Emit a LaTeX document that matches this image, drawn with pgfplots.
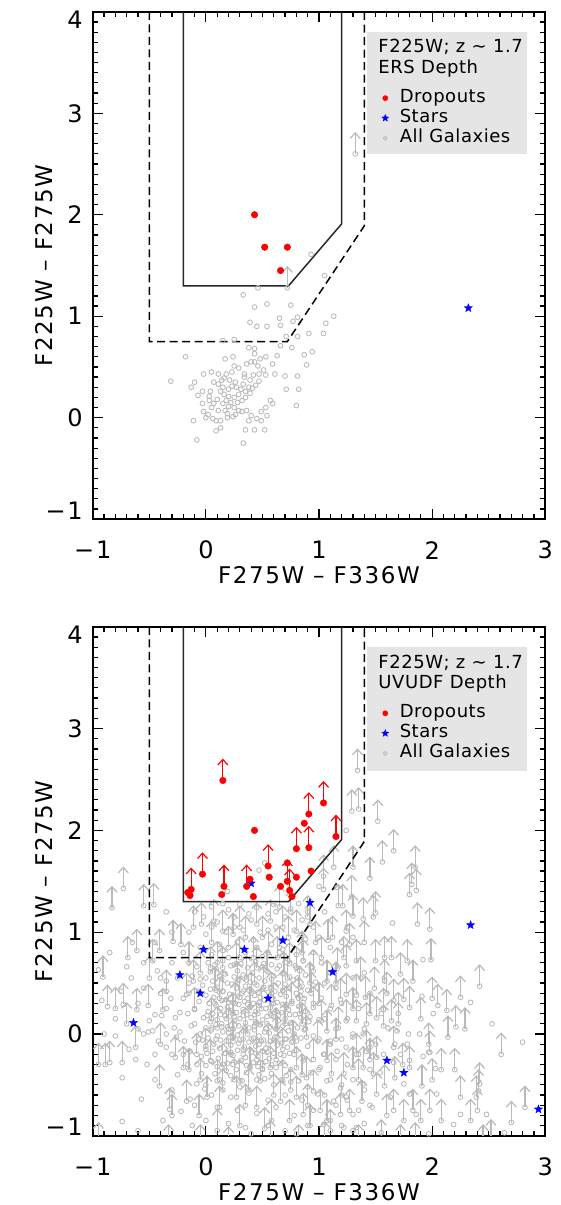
\documentclass[border=0pt]{standalone}
\usepackage{fontspec}
\usepackage{pgfplots}
\usepackage{pgfplotstable}
\pgfplotsset{compat=1.18}
\usetikzlibrary{arrows.meta}
\newfontfamily\idl{DejaVu Sans}[LetterSpace=7]
\newfontfamily\idls{DejaVu Sans}[LetterSpace=3]
\definecolor{galgray}{RGB}{185,185,185}
\definecolor{leggray}{RGB}{229,229,229}
\pgfdeclareplotmark{fstar}{%
  \pgfpathmoveto{\pgfpointpolar{90}{\pgfplotmarksize}}%
  \pgfpathlineto{\pgfpointpolar{126}{0.42\pgfplotmarksize}}%
  \pgfpathlineto{\pgfpointpolar{162}{\pgfplotmarksize}}%
  \pgfpathlineto{\pgfpointpolar{198}{0.42\pgfplotmarksize}}%
  \pgfpathlineto{\pgfpointpolar{234}{\pgfplotmarksize}}%
  \pgfpathlineto{\pgfpointpolar{270}{0.42\pgfplotmarksize}}%
  \pgfpathlineto{\pgfpointpolar{306}{\pgfplotmarksize}}%
  \pgfpathlineto{\pgfpointpolar{342}{0.42\pgfplotmarksize}}%
  \pgfpathlineto{\pgfpointpolar{18}{\pgfplotmarksize}}%
  \pgfpathlineto{\pgfpointpolar{54}{0.42\pgfplotmarksize}}%
  \pgfpathclose
  \pgfusepathqfillstroke}

% ---------------- top panel data ----------------
\pgfplotstableread[row sep=\\]{x y\\
0.93 1.61\\ 1.05 1.40\\ 1.13 1.00\\ 1.06 0.93\\ 1.04 0.83\\ 0.91 0.83\\ 0.94 0.65\\ 0.87 0.62\\ 0.89 0.52\\ 0.82 0.28\\
0.80 0.12\\ 0.81 0.41\\ 0.71 0.28\\ 0.70 0.41\\ 0.76 0.69\\ 0.81 0.80\\ 0.77 0.95\\ 0.81 0.99\\ 0.75 1.11\\ 0.66 0.91\\
0.65 0.98\\ 0.54 1.12\\ 0.43 1.09\\ 0.46 1.28\\ 0.33 1.21\\ 0.39 0.94\\ 0.45 0.90\\ 0.54 0.90\\ 0.71 0.80\\ 0.66 0.71\\
0.63 0.61\\ 0.53 0.60\\ 0.59 0.53\\ 0.61 0.43\\ 0.53 0.42\\ 0.51 0.47\\ 0.46 0.51\\ 0.48 0.58\\ 0.43 0.63\\ 0.38 0.69\\
0.43 0.68\\ 0.25 0.77\\ 0.15 0.76\\ -0.18 0.60\\ -0.31 0.36\\ -0.13 0.30\\ -0.10 0.35\\ -0.07 0.22\\ -0.03 0.14\\ 0.03 0.21\\
0.04 0.26\\ 0.05 0.45\\ 0.11 0.33\\ 0.14 0.37\\ 0.17 0.58\\ 0.24 0.60\\ 0.25 0.51\\ 0.29 0.49\\ 0.34 0.43\\ 0.36 0.53\\
0.40 0.55\\ 0.43 0.55\\ 0.34 0.40\\ 0.39 0.37\\ 0.42 0.42\\ 0.47 0.43\\ 0.47 0.36\\ 0.44 0.32\\ 0.41 0.29\\ 0.39 0.24\\
0.35 0.20\\ 0.32 0.17\\ 0.28 0.15\\ 0.25 0.10\\ 0.29 0.07\\ 0.26 0.03\\ 0.24 0.01\\ 0.32 0.06\\ 0.36 0.07\\ 0.40 0.02\\
0.45 -0.01\\ 0.43 -0.12\\ 0.35 -0.12\\ 0.52 -0.12\\ 0.33 -0.25\\ 0.09 -0.13\\ 0.13 -0.10\\ -0.08 -0.22\\ -0.11 -0.03\\ -0.02 0.06\\
0.02 0.03\\ 0.00 0.00\\ 0.06 -0.01\\ 0.09 -0.03\\ 0.11 0.07\\ 0.17 0.07\\ 0.19 0.04\\ 0.15 0.14\\ 0.18 0.17\\ 0.20 0.21\\
0.16 0.23\\ 0.13 0.26\\ 0.20 0.28\\ 0.23 0.31\\ 0.26 0.35\\ 0.27 0.30\\ 0.31 0.28\\ 0.33 0.33\\ 0.35 0.26\\ 0.38 0.30\\
0.29 0.23\\ 0.25 0.20\\ 0.22 0.15\\ 0.20 0.11\\ 0.05 0.10\\ 0.07 0.14\\ 0.10 0.18\\ 0.03 0.17\\ -0.03 0.26\\ 0.57 0.17\\
0.59 0.14\\ 0.53 0.10\\ 0.49 0.06\\ 0.54 0.02\\ 0.49 -0.03\\ 0.16 0.39\\ 0.21 0.37\\ 0.23 0.45\\ 0.18 0.43\\ 0.11 0.43\\
0.07 0.35\\ -0.02 0.43\\ 0.15 0.30\\ 0.38 -0.03\\ 0.19 0.00\\ 0.13 -0.03\\
}\topgal
\pgfplotstableread[row sep=\\]{x y\\ 0.72 1.28\\ 1.32 2.60\\}\toparrow
\pgfplotstableread[row sep=\\]{x y\\ 0.43 2.00\\ 0.52 1.68\\ 0.72 1.68\\ 0.66 1.45\\}\topdrop
\pgfplotstableread[row sep=\\]{x y\\ 2.32 1.08\\}\topstar

% ---------------- bottom panel data ----------------
\pgfplotstableread[row sep=\\]{x y\\
0.02 0.70\\ 0.15 0.72\\ 0.31 0.69\\ 0.44 0.71\\ 0.58 0.68\\ 0.71 0.70\\ 0.86 0.72\\
-0.08 0.66\\ 0.09 0.64\\ 0.22 0.67\\ 0.37 0.65\\ 0.50 0.66\\ 0.63 0.64\\ 0.79 0.67\\ 0.93 0.65\\
0.04 0.61\\ 0.17 0.59\\ 0.28 0.62\\ 0.41 0.60\\ 0.55 0.61\\ 0.68 0.59\\ 0.83 0.62\\
-0.12 0.57\\ 0.00 0.55\\ 0.12 0.57\\ 0.25 0.56\\ 0.33 0.58\\ 0.47 0.55\\ 0.60 0.57\\ 0.74 0.56\\ 0.88 0.58\\
0.06 0.52\\ 0.19 0.50\\ 0.29 0.53\\ 0.39 0.51\\ 0.52 0.52\\ 0.64 0.50\\ 0.77 0.53\\ 0.97 0.51\\
-0.03 0.48\\ 0.10 0.46\\ 0.23 0.49\\ 0.35 0.47\\ 0.45 0.48\\ 0.57 0.46\\ 0.70 0.49\\ 0.85 0.47\\
0.04 0.44\\ 0.15 0.42\\ 0.27 0.45\\ 0.38 0.43\\ 0.50 0.44\\ 0.61 0.42\\ 0.73 0.45\\ 0.90 0.43\\
-0.15 0.40\\ 0.00 0.38\\ 0.12 0.41\\ 0.21 0.39\\ 0.32 0.40\\ 0.43 0.38\\ 0.55 0.41\\ 0.66 0.39\\ 0.80 0.40\\
0.07 0.36\\ 0.18 0.34\\ 0.28 0.37\\ 0.37 0.35\\ 0.48 0.36\\ 0.59 0.34\\ 0.71 0.37\\ 0.87 0.35\\
-0.06 0.32\\ 0.03 0.30\\ 0.14 0.33\\ 0.24 0.31\\ 0.34 0.32\\ 0.42 0.30\\ 0.52 0.33\\ 0.63 0.31\\ 0.76 0.32\\ 0.95 0.30\\
0.09 0.28\\ 0.19 0.26\\ 0.29 0.29\\ 0.39 0.27\\ 0.47 0.28\\ 0.57 0.26\\ 0.68 0.29\\ 0.82 0.27\\
-0.10 0.24\\ 0.02 0.22\\ 0.13 0.25\\ 0.23 0.23\\ 0.33 0.24\\ 0.44 0.22\\ 0.53 0.25\\ 0.62 0.23\\ 0.73 0.24\\ 0.88 0.22\\
0.06 0.20\\ 0.17 0.18\\ 0.27 0.21\\ 0.36 0.19\\ 0.46 0.20\\ 0.58 0.18\\ 0.67 0.21\\ 0.79 0.19\\
-0.02 0.16\\ 0.10 0.14\\ 0.21 0.17\\ 0.30 0.15\\ 0.40 0.16\\ 0.50 0.14\\ 0.60 0.17\\ 0.70 0.15\\ 0.84 0.16\\ 1.00 0.14\\
0.04 0.12\\ 0.14 0.10\\ 0.25 0.13\\ 0.35 0.11\\ 0.44 0.12\\ 0.54 0.10\\ 0.64 0.13\\ 0.75 0.11\\ 0.91 0.12\\
-0.13 0.08\\ 0.00 0.06\\ 0.09 0.09\\ 0.19 0.07\\ 0.29 0.08\\ 0.38 0.06\\ 0.48 0.09\\ 0.57 0.07\\ 0.68 0.08\\ 0.81 0.06\\
0.05 0.04\\ 0.15 0.02\\ 0.24 0.05\\ 0.33 0.03\\ 0.43 0.04\\ 0.52 0.02\\ 0.62 0.05\\ 0.73 0.03\\ 0.87 0.04\\
-0.05 0.00\\ 0.10 -0.02\\ 0.20 0.01\\ 0.28 -0.01\\ 0.37 0.00\\ 0.47 -0.02\\ 0.56 0.01\\ 0.66 -0.01\\ 0.78 0.00\\ 0.95 -0.02\\
0.02 -0.04\\ 0.13 -0.06\\ 0.24 -0.03\\ 0.33 -0.05\\ 0.42 -0.04\\ 0.51 -0.06\\ 0.61 -0.03\\ 0.71 -0.05\\ 0.84 -0.04\\
-0.09 -0.08\\ 0.07 -0.10\\ 0.18 -0.07\\ 0.29 -0.09\\ 0.38 -0.08\\ 0.47 -0.10\\ 0.57 -0.07\\ 0.67 -0.09\\ 0.76 -0.08\\
0.00 -0.12\\ 0.12 -0.14\\ 0.22 -0.11\\ 0.34 -0.13\\ 0.44 -0.12\\ 0.53 -0.14\\ 0.63 -0.11\\ 0.72 -0.13\\ 0.90 -0.12\\
0.06 -0.17\\ 0.17 -0.19\\ 0.28 -0.16\\ 0.40 -0.18\\ 0.50 -0.17\\ 0.60 -0.19\\ 0.80 -0.16\\
-0.04 -0.22\\ 0.11 -0.24\\ 0.24 -0.21\\ 0.35 -0.23\\ 0.46 -0.22\\ 0.56 -0.24\\ 0.69 -0.21\\
0.05 -0.27\\ 0.19 -0.29\\ 0.31 -0.26\\ 0.42 -0.28\\ 0.53 -0.27\\ 0.65 -0.29\\ 0.86 -0.26\\
0.14 -0.33\\ 0.27 -0.35\\ 0.39 -0.32\\ 0.50 -0.34\\ 0.62 -0.33\\ 0.75 -0.35\\
0.08 -0.39\\ 0.22 -0.41\\ 0.36 -0.38\\ 0.47 -0.40\\ 0.58 -0.39\\ 0.71 -0.41\\ 0.93 -0.38\\
0.08 0.68\\ 0.25 0.68\\ 0.51 0.69\\ 0.65 0.67\\ -0.05 0.54\\ 0.14 0.54\\ 0.36 0.53\\ 0.58 0.54\\ 0.81 0.55\\
-0.08 0.42\\ 0.09 0.43\\ 0.33 0.42\\ 0.46 0.41\\ 0.68 0.43\\ 0.84 0.42\\ 0.08 0.30\\ 0.20 0.31\\ 0.37 0.29\\ 0.47 0.31\\
0.58 0.30\\ 0.71 0.29\\ 0.86 0.31\\ 0.01 0.18\\ 0.13 0.19\\ 0.25 0.17\\ 0.33 0.18\\ 0.43 0.19\\ 0.54 0.17\\ 0.64 0.18\\
0.74 0.19\\ 0.92 0.17\\ 0.05 0.06\\ 0.14 0.07\\ 0.24 0.05\\ 0.34 0.06\\ 0.43 0.07\\ 0.53 0.05\\ 0.63 0.06\\ 0.76 0.07\\
0.88 0.05\\ -0.03 -0.06\\ 0.09 -0.05\\ 0.20 -0.07\\ 0.30 -0.06\\ 0.40 -0.05\\ 0.49 -0.07\\ 0.60 -0.06\\ 0.70 -0.05\\ 0.80 -0.07\\
0.01 -0.19\\ 0.22 -0.18\\ 0.33 -0.20\\ 0.44 -0.19\\ 0.54 -0.18\\ 0.66 -0.20\\ 0.74 -0.19\\ 0.00 -0.31\\ 0.10 -0.32\\ 0.24 -0.30\\
0.36 -0.31\\ 0.46 -0.32\\ 0.58 -0.30\\ 0.70 -0.31\\ 0.12 -0.45\\ 0.32 -0.46\\ 0.52 -0.44\\ 0.67 -0.45\\ 0.82 -0.46\\
0.15 0.82\\ 0.45 0.85\\ 0.68 0.83\\ 0.85 0.98\\ 0.25 1.05\\ 0.55 1.02\\ 0.05 1.05\\ 0.38 1.18\\ 0.62 1.20\\ 0.82 1.28\\
-0.02 1.15\\ 0.15 1.28\\ -0.55 0.00\\ -0.62 -0.25\\ -0.80 0.15\\ -0.45 -0.20\\ -0.35 0.25\\ -0.55 0.70\\ -0.65 0.90\\ -0.85 0.80\\
-0.25 0.55\\ -0.40 0.55\\
-0.74 -0.43\\ -0.57 -0.64\\ -0.74 -0.86\\ -0.31 0.35\\ -0.39 0.18\\ -0.45 0.19\\ -0.50 0.13\\ -0.51 0.02\\ -0.47 0.03\\ -0.42 -0.07\\
-0.35 -0.13\\ -0.30 -0.20\\ -0.26 -0.03\\ -0.28 0.06\\ -0.23 0.02\\ -0.23 0.21\\ -0.27 0.16\\ -0.19 -0.07\\ -0.20 -0.20\\ -0.14 -0.17\\
-0.16 -0.30\\ -0.08 -0.30\\ -0.04 -0.39\\ -0.08 -0.49\\ -0.01 -0.54\\ -0.14 -0.64\\ -0.22 -0.76\\ -0.43 0.62\\ -0.35 0.52\\ -0.70 0.66\\
-0.95 0.63\\ -0.92 0.33\\ -0.66 0.55\\ -0.55 0.45\\ -0.60 0.05\\ -0.35 0.00\\ -0.20 0.35\\ -0.15 0.50\\ -0.30 0.70\\ -0.20 0.80\\
-0.45 0.90\\ -0.80 -0.02\\ -0.52 -0.30\\ -0.45 -0.45\\ -0.30 -0.55\\ -0.38 -0.85\\ -0.60 -0.95\\ -0.12 -0.90\\ -0.25 -0.40\\ -0.10 0.10\\
-0.16 0.20\\ -0.06 -0.05\\ -0.30 1.00\\ -0.35 1.20\\ -0.15 1.00\\ -0.40 0.40\\ -0.60 0.30\\ -0.75 0.42\\ -0.90 0.00\\ -0.68 -0.15\\
0.05 0.78\\ 0.20 0.75\\ 0.35 0.80\\ 0.50 0.76\\ 0.65 0.80\\ 0.80 0.78\\ 0.95 0.80\\ -0.05 0.85\\ 0.12 0.88\\ 0.28 0.90\\
0.42 0.92\\ 0.58 0.88\\ 0.72 0.90\\ 0.88 0.93\\ 0.00 0.98\\ 0.18 1.00\\ 0.33 1.02\\ 0.48 1.00\\ 0.62 1.05\\ 0.78 1.02\\
0.95 1.05\\ 0.10 1.10\\ 0.25 1.15\\ 0.40 1.12\\ 0.55 1.18\\ 0.70 1.15\\ 0.85 1.12\\ -0.10 1.20\\ 0.05 1.25\\ 0.20 1.22\\
0.30 1.27\\ 0.45 1.24\\ 0.60 1.27\\ 0.75 1.23\\ 0.90 1.20\\ 0.47 1.61\\ 0.52 1.68\\ 0.19 1.40\\ 1.00 1.45\\ 1.05 1.20\\
1.00 0.95\\ 1.10 0.85\\ 1.20 0.90\\ 1.30 0.95\\ 1.25 1.05\\ 1.24 2.00\\ 1.16 1.44\\
0.00 -0.50\\ 0.15 -0.48\\ 0.30 -0.52\\ 0.45 -0.45\\ 0.60 -0.50\\ 0.75 -0.47\\ 0.90 -0.52\\ 0.05 -0.60\\ 0.22 -0.62\\ 0.38 -0.58\\
0.55 -0.65\\ 0.70 -0.60\\ 0.85 -0.65\\ 0.10 -0.72\\ 0.28 -0.75\\ 0.45 -0.78\\ 0.62 -0.72\\ 0.78 -0.80\\ 0.95 -0.75\\ 0.00 -0.85\\
0.20 -0.88\\ 0.35 -0.92\\ 0.55 -0.90\\ 0.70 -0.95\\ 0.90 -0.90\\ -0.10 -0.70\\ 0.40 -0.98\\ 0.80 -0.98\\
1.02 0.70\\ 1.10 0.60\\ 1.05 0.50\\ 1.15 0.45\\ 1.02 0.35\\ 1.10 0.25\\ 1.20 0.30\\ 1.05 0.15\\ 1.15 0.05\\ 1.25 0.15\\
1.00 -0.05\\ 1.10 -0.10\\ 1.20 -0.05\\ 1.30 0.00\\ 1.05 -0.20\\ 1.15 -0.25\\ 1.25 -0.30\\ 1.35 -0.20\\ 1.00 -0.35\\ 1.10 -0.45\\
1.20 -0.50\\ 1.30 -0.45\\ 1.40 -0.55\\ 1.05 -0.60\\ 1.15 -0.70\\ 1.25 -0.65\\ 1.35 -0.75\\ 1.45 -0.70\\ 1.10 -0.85\\ 1.20 -0.90\\
1.30 -0.95\\ 1.40 -0.88\\ 1.30 0.55\\ 1.40 0.60\\ 1.35 0.25\\ 1.45 0.40\\ 1.40 0.05\\ 1.50 -0.10\\ 1.55 0.20\\ 1.45 -0.35\\
1.65 1.09\\ 1.92 0.73\\ 2.34 0.31\\ 2.53 0.10\\ 2.80 -0.08\\ 2.03 -0.34\\ 1.92 -0.22\\ 1.58 0.53\\ 1.91 0.37\\ 2.01 0.20\\
1.89 0.00\\ 1.97 -0.18\\ 1.79 0.00\\ 1.69 0.03\\ 1.61 0.06\\ 1.67 -0.10\\ 1.78 -0.10\\ 1.80 -0.26\\ 1.72 -0.20\\ 1.57 -0.20\\
1.45 -0.13\\ 1.39 0.00\\ 1.30 -0.03\\ 1.24 -0.13\\ 1.16 -0.17\\ 1.10 -0.07\\ 1.04 -0.20\\ 1.01 -0.33\\ 1.07 -0.46\\ 1.19 -0.53\\
1.24 -0.62\\ 1.39 -0.49\\ 1.47 -0.72\\ 1.30 -0.79\\ 1.13 -0.66\\ 0.99 -0.59\\ 1.66 -0.28\\ 1.54 -0.38\\ 1.75 -0.49\\ 1.63 -0.62\\
1.80 -0.59\\ 1.86 -0.79\\ 2.04 -0.59\\ 2.19 -0.89\\ 2.25 -0.79\\ 2.48 -0.79\\ 2.64 -0.97\\ 1.97 -0.98\\ 1.55 -0.97\\ 1.33 -0.92\\
1.22 -0.92\\ 1.04 -0.89\\
}\botgal
\pgfplotstableread[row sep=\\]{x y\\
-0.73 1.43\\ -0.55 1.26\\ -0.61 0.82\\ -0.69 0.75\\ -0.41 0.82\\ -0.47 0.72\\ -0.29 0.91\\ -0.22 0.88\\ -0.11 1.05\\ -0.04 1.08\\
0.07 1.11\\ 0.15 1.01\\ 0.24 0.98\\ 0.30 1.05\\ 0.45 1.08\\ 0.57 1.11\\ 0.68 1.05\\ 0.80 1.01\\ 0.92 1.08\\ -0.91 0.56\\
-0.87 0.27\\ -0.80 0.25\\ -0.73 0.29\\ -0.61 0.24\\ -0.51 0.28\\ -0.38 0.24\\ -0.35 0.42\\ -0.17 0.39\\ -0.11 0.52\\ 0.04 0.65\\
0.15 0.65\\ 0.27 0.69\\ 0.36 0.56\\ 0.45 0.65\\ 0.54 0.62\\ 0.63 0.75\\ 0.74 0.69\\ 0.86 0.72\\ 0.95 0.62\\ -0.89 -0.30\\
-0.85 -0.28\\ -0.74 -0.28\\ -0.62 -0.13\\ -0.40 -0.10\\ -0.27 -0.23\\ -0.41 -0.51\\ -0.32 -0.74\\ -0.06 -0.80\\ 0.52 -0.93\\ -0.20 -0.33\\
-0.08 -0.20\\ 0.04 -0.26\\ 0.10 -0.46\\ 0.18 -0.36\\ 0.30 -0.46\\ 0.39 -0.33\\ 0.48 -0.46\\ 0.57 -0.33\\ 0.68 -0.46\\ 0.80 -0.33\\
0.89 -0.43\\ 0.95 -0.56\\ 0.80 -0.62\\ 0.66 -0.66\\ 0.45 -0.72\\ 0.27 -0.62\\ 0.12 -0.72\\ 0.01 -0.62\\ -0.17 -0.66\\ 0.74 -0.85\\
0.86 -0.79\\ 0.24 -0.07\\ 0.45 -0.07\\ 0.63 -0.03\\ 0.77 -0.07\\ 0.89 -0.03\\ 0.10 0.06\\ 0.24 0.20\\ 0.39 0.26\\ 0.57 0.20\\
0.71 0.26\\ 0.83 0.20\\ 0.95 0.26\\ 0.15 0.42\\ 0.30 0.36\\ 0.51 0.46\\ 0.68 0.42\\ 0.83 0.46\\
0.05 0.15\\ 0.12 0.35\\ 0.20 0.05\\ 0.28 0.50\\ 0.33 -0.15\\ 0.40 0.40\\ 0.45 0.10\\ 0.55 -0.10\\ 0.60 0.30\\ 0.65 0.85\\
0.70 0.10\\ 0.72 0.55\\ 0.78 -0.20\\ 0.82 0.35\\ 0.85 0.80\\ 0.88 0.05\\ 0.92 0.50\\ 0.95 -0.25\\ 0.97 0.90\\ 0.75 1.20\\
0.65 1.25\\ 0.50 0.95\\ 0.35 0.95\\ 0.20 0.85\\ 0.10 0.70\\ -0.05 0.60\\ -0.10 0.25\\ 0.00 -0.15\\ 0.15 -0.30\\ 0.25 -0.45\\
0.38 -0.55\\ 0.50 -0.35\\ 0.62 -0.25\\ 0.75 -0.55\\ 0.90 -0.70\\ 0.58 -0.85\\ 0.30 -0.90\\ 0.10 -0.95\\ -0.15 -0.35\\ -0.30 -0.80\\
-0.50 0.55\\ -0.70 0.10\\ -0.95 -0.30\\ 0.42 0.75\\ 0.80 0.65\\ 0.90 1.15\\ 1.00 0.30\\ 1.02 0.75\\
0.08 0.45\\ 0.18 0.15\\ 0.26 0.30\\ 0.35 0.05\\ 0.43 0.50\\ 0.49 0.25\\ 0.58 0.40\\ 0.62 0.05\\ 0.69 0.60\\ 0.76 0.30\\
0.85 0.10\\ 0.93 0.40\\ 0.30 0.75\\ 0.55 0.80\\ 0.73 0.95\\ 0.05 0.90\\ -0.15 0.70\\ 0.22 -0.20\\ 0.45 -0.25\\ 0.68 -0.15\\
0.85 -0.40\\ 0.35 -0.70\\ 0.60 -0.60\\ 0.15 -0.55\\ -0.05 -0.45\\ 0.92 -0.90\\ 1.10 -0.95\\ 1.20 -0.60\\ 1.35 -0.45\\ 1.45 -0.25\\
1.15 -0.05\\ 1.30 0.25\\ 1.45 0.20\\ 1.15 0.50\\ 1.37 0.55\\ 1.60 0.40\\ 1.12 0.95\\ 1.40 0.90\\ 1.90 0.15\\ 2.00 -0.45\\
1.90 -0.85\\ 2.20 -0.35\\
1.80 1.37\\ 1.86 1.41\\ 1.17 1.26\\ 1.21 1.26\\ 1.30 1.16\\ 1.39 1.13\\ 1.48 1.15\\ 1.50 1.19\\ 1.87 1.08\\ 1.98 1.03\\
1.24 1.01\\ 1.08 0.92\\ 1.33 0.72\\ 1.50 0.72\\ 1.58 0.75\\ 1.64 0.75\\ 1.78 0.72\\ 1.99 0.73\\ 2.42 0.47\\ 2.25 0.36\\
2.00 0.35\\ 2.05 0.28\\ 2.13 0.23\\ 2.21 0.07\\ 2.29 0.05\\ 2.14 -0.03\\ 2.61 -0.20\\ 2.08 -0.35\\ 1.91 -0.51\\ 1.97 -0.10\\
1.98 -0.18\\ 2.25 -0.62\\ 2.39 -0.62\\ 2.41 -0.56\\ 2.42 -0.49\\ 2.40 -0.75\\ 2.34 -0.85\\ 2.70 -0.87\\ 2.82 -0.72\\ 2.08 -0.85\\
1.98 -0.75\\ 1.83 -0.75\\ 1.75 -0.85\\ 1.66 -0.75\\ 1.60 -0.80\\ 1.51 -0.59\\ 1.38 -0.66\\ 1.27 -0.75\\ 1.19 -0.79\\ 1.07 -0.85\\
1.01 -0.75\\ 1.80 -0.33\\ 1.74 -0.30\\ 1.67 -0.43\\ 1.58 -0.51\\ 1.48 -0.39\\ 1.39 -0.33\\ 1.30 -0.33\\ 1.22 -0.39\\ 1.11 -0.39\\
1.07 -0.26\\ 1.33 -0.20\\ 1.42 -0.17\\ 1.51 -0.23\\ 1.66 -0.13\\ 1.70 0.10\\ 1.64 0.13\\ 1.57 0.08\\ 1.51 0.16\\ 1.42 0.10\\
1.33 0.13\\ 1.24 0.13\\ 1.17 0.06\\ 1.07 0.03\\ 0.99 -0.07\\ 1.80 0.26\\ 1.70 0.20\\ 1.75 0.34\\ 1.66 0.33\\ 1.57 0.24\\
1.49 0.45\\ 1.41 0.36\\ 1.33 0.38\\ 1.24 0.39\\ 1.19 0.34\\ 1.11 0.28\\ 1.02 0.13\\ 1.58 0.52\\ 1.83 0.52\\ 1.72 0.59\\
1.24 0.67\\ 1.16 0.64\\ 1.07 0.52\\ 1.27 0.88\\ 1.22 0.75\\
1.34 2.59\\ 1.29 2.19\\ 1.35 2.21\\ 1.52 2.09\\ 1.66 1.80\\ 1.56 1.69\\ 1.45 1.53\\ 1.30 1.64\\ 1.85 1.64\\ 1.82 1.47\\
1.13 1.64\\ 1.04 1.55\\ 1.04 1.42\\ 1.29 1.35\\ -0.83 1.24\\ -0.46 1.27\\
-0.95 -1.08\\ -0.33 -1.10\\ -0.05 -1.10\\ 0.20 -1.12\\ 0.57 -1.06\\ 0.82 -1.10\\ 1.05 -1.07\\ 1.35 -1.10\\ 1.55 -1.05\\ 1.72 -1.10\\
1.85 -1.08\\ 2.45 -1.10\\ 2.52 -1.05\\
}\botarrow
\pgfplotstableread[row sep=\\]{x y\\
-0.16 1.39\\ -0.14 1.36\\ 0.14 1.37\\ 0.39 1.52\\ 0.42 1.35\\ 0.43 2.00\\ 0.56 1.54\\ 0.66 1.45\\ 0.72 1.68\\ 0.76 1.35\\
0.80 1.54\\ 0.87 2.07\\ 0.93 1.60\\
}\botdrop
\pgfplotstableread[row sep=\\]{x y\\
-0.13 1.42\\ -0.03 1.57\\ 0.15 2.49\\ 0.16 1.45\\ 0.36 1.45\\ 0.55 1.65\\ 0.74 1.41\\ 0.72 1.50\\ 0.80 1.82\\ 0.91 2.16\\
0.91 1.83\\ 1.04 2.27\\ 1.15 1.94\\
}\botdroparrow
\pgfplotstableread[row sep=\\]{x y\\
-0.64 0.11\\ -0.23 0.58\\ -0.05 0.40\\ -0.02 0.83\\ 0.34 0.83\\ 0.40 1.48\\ 0.55 0.35\\ 0.68 0.92\\ 0.92 1.29\\ 1.12 0.61\\
1.60 -0.26\\ 1.75 -0.38\\ 2.34 1.07\\ 2.94 -0.74\\
}\botstar

\pgfplotsset{
  idlaxis/.style={
    scale only axis, width=452.5pt, height=507.3pt,
    xmin=-1, xmax=3, ymin=-1, ymax=4,
    xtick={-1,0,1,2,3}, ytick={-1,0,1,2,3,4},
    xticklabels={−1,0,1,2,3},
    yticklabels={\smash{−1},0,1,2,3,\smash{\raisebox{-16.4pt}{4}}},
    minor tick num=9,
    tick align=inside,
    major tick length=10pt, minor tick length=5pt,
    tick style={black, line width=1.2pt},
    axis line style={black, line width=1.8pt},
    tick label style={font=\idl\fontsize{24}{28}\selectfont},
    xticklabel style={anchor=center, inner sep=0pt, yshift=-31pt},
    yticklabel style={anchor=east, inner sep=0pt, xshift=-10pt},
    label style={font=\idl\fontsize{23}{27}\selectfont},
    xlabel={F275W – F336W}, ylabel={F225W – F275W},
    xlabel style={at={(axis description cs:0.5,0)}, anchor=center, yshift=-56pt},
    ylabel style={at={(axis description cs:-0.1072,0.5)}, anchor=center},
    legend style={at={(axis cs:1.522,3.25)}, anchor=north west, draw=none, fill=none,
      font=\idls\fontsize{18}{20}\selectfont, inner sep=0pt, row sep=0pt,
      nodes={inner sep=1.5pt, text height=13pt, text depth=4pt}},
    legend cell align=left,
    legend image code/.code={\path[draw=none,fill=none] (-7pt,-1pt) rectangle (13pt,1pt);
      \draw[#1] plot coordinates {(0pt,0pt)};},
  },
  galmarks/.style={only marks, mark=o, mark size=2.4pt, galgray, line width=0.85pt, forget plot},
  galarrows/.style={galgray, line width=1.2pt, quiver={u=0,v=0.215},
    -{Straight Barb[length=5.5pt,width=10pt]}, forget plot},
  dropmarks/.style={only marks, mark=*, mark size=3.3pt, red, forget plot},
  droparrows/.style={red, line width=1.2pt, quiver={u=0,v=0.215},
    -{Straight Barb[length=5.5pt,width=10pt]}, forget plot},
  starmarks/.style={only marks, mark=fstar, mark size=4.4pt, blue, mark options={fill=blue, line width=0.3pt}, forget plot},
  boxsolid/.style={black!85, line width=1.5pt, forget plot},
  boxdash/.style={black, line width=1.5pt, dash pattern=on 8pt off 4.5pt, forget plot},
}

\begin{document}
\begin{tikzpicture}[x=1pt,y=1pt]

% ===== top panel =====
\begin{axis}[idlaxis, at={(82,676)}, anchor=south west]
\addplot[galarrows] table {\toparrow};
\addplot[galmarks] table {\topgal};
\addplot[galmarks] table {\toparrow};
\addplot[boxdash] coordinates {(-0.5,4) (-0.5,0.75) (0.72,0.75) (1.4,1.89) (1.4,4)};
\addplot[boxsolid] coordinates {(-0.2,4) (-0.2,1.3) (0.731,1.3) (1.2,1.91) (1.2,4)};
\addplot[dropmarks] table {\topdrop};
\addplot[starmarks] table {\topstar};
\fill[leggray] (axis cs:1.421,2.60) rectangle (axis cs:2.836,3.80);
\node[anchor=west, inner sep=0pt, font=\idls\fontsize{18}{20}\selectfont] at (axis cs:1.524,3.65) {F225W; z ∼ 1.7};
\node[anchor=west, inner sep=0pt, font=\idls\fontsize{18}{20}\selectfont] at (axis cs:1.524,3.44) {ERS Depth};
\addlegendimage{only marks, mark=*, mark size=2.6pt, red}
\addlegendentry{Dropouts}
\addlegendimage{only marks, mark=fstar, mark size=3.6pt, blue, mark options={fill=blue}}
\addlegendentry{Stars}
\addlegendimage{only marks, mark=o, mark size=1.9pt, galgray, line width=0.8pt}
\addlegendentry{All Galaxies}
\end{axis}

% ===== bottom panel =====
\begin{axis}[idlaxis, height=509pt, at={(82,68)}, anchor=south west]
\addplot[galarrows] table {\botarrow};
\addplot[galmarks] table {\botgal};
\addplot[galmarks] table {\botarrow};
\addplot[boxdash] coordinates {(-0.5,4) (-0.5,0.75) (0.72,0.75) (1.4,1.89) (1.4,4)};
\addplot[boxsolid] coordinates {(-0.2,4) (-0.2,1.3) (0.731,1.3) (1.2,1.91) (1.2,4)};
\addplot[starmarks] table {\botstar};
\addplot[droparrows] table {\botdroparrow};
\addplot[dropmarks] table {\botdroparrow};
\addplot[dropmarks] table {\botdrop};
\fill[leggray] (axis cs:1.421,2.585) rectangle (axis cs:2.836,3.797);
\node[anchor=west, inner sep=0pt, font=\idls\fontsize{18}{20}\selectfont] at (axis cs:1.524,3.649) {F225W; z ∼ 1.7};
\node[anchor=west, inner sep=0pt, font=\idls\fontsize{18}{20}\selectfont] at (axis cs:1.524,3.44) {UVUDF Depth};
\addlegendimage{only marks, mark=*, mark size=2.6pt, red}
\addlegendentry{Dropouts}
\addlegendimage{only marks, mark=fstar, mark size=3.6pt, blue, mark options={fill=blue}}
\addlegendentry{Stars}
\addlegendimage{only marks, mark=o, mark size=1.9pt, galgray, line width=0.8pt}
\addlegendentry{All Galaxies}
\end{axis}

\pgfresetboundingbox
\path[use as bounding box] (0,0) rectangle (560,1205);
\end{tikzpicture}
\end{document}
